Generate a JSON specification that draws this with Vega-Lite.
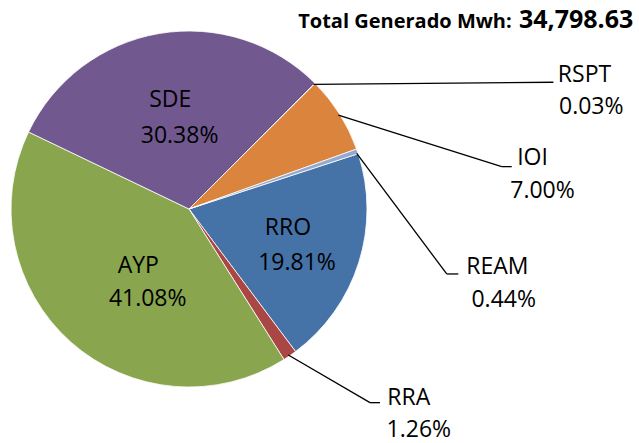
{
  "$schema": "https://vega.github.io/schema/vega-lite/v6.json",
  "width": 356,
  "height": 356,
  "autosize": {"type": "none"},
  "padding": {"left": 11, "top": 31, "right": 272, "bottom": 56},
  "background": "white",
  "config": {"view": {"stroke": null}, "text": {"font": "Open Sans"}},
  "datasets": {
    "slices": [
      {"cat": "RRO", "pct": 19.81, "ord": 1},
      {"cat": "RRA", "pct": 1.26, "ord": 2},
      {"cat": "AYP", "pct": 41.08, "ord": 3},
      {"cat": "SDE", "pct": 30.38, "ord": 4},
      {"cat": "RSPT", "pct": 0.03, "ord": 5},
      {"cat": "IOI", "pct": 7.00, "ord": 6},
      {"cat": "REAM", "pct": 0.44, "ord": 7}
    ],
    "leaders": [
      {"cat": "RSPT", "x": 0.699, "y": 0.700, "x2": 2.047, "y2": 0.712},
      {"cat": "IOI", "x": 0.839, "y": 0.528, "x2": 1.757, "y2": 0.238},
      {"cat": "IOI", "x": 1.757, "y": 0.238, "x2": 1.813, "y2": 0.238},
      {"cat": "REAM", "x": 0.942, "y": 0.313, "x2": 1.448, "y2": -0.365},
      {"cat": "REAM", "x": 1.448, "y": -0.365, "x2": 1.513, "y2": -0.365},
      {"cat": "RRA", "x": 0.558, "y": -0.820, "x2": 1.017, "y2": -1.088},
      {"cat": "RRA", "x": 1.017, "y": -1.088, "x2": 1.073, "y2": -1.088}
    ],
    "labels": [
      {"t": "SDE", "x": -0.105, "y": 0.612},
      {"t": "30.38%", "x": -0.053, "y": 0.411},
      {"t": "RRO", "x": 0.556, "y": -0.107},
      {"t": "19.81%", "x": 0.607, "y": -0.302},
      {"t": "AYP", "x": -0.285, "y": -0.319},
      {"t": "41.08%", "x": -0.232, "y": -0.506},
      {"t": "RSPT", "x": 2.222, "y": 0.755},
      {"t": "0.03%", "x": 2.260, "y": 0.575},
      {"t": "IOI", "x": 1.930, "y": 0.289},
      {"t": "7.00%", "x": 1.986, "y": 0.102},
      {"t": "REAM", "x": 1.732, "y": -0.324},
      {"t": "0.44%", "x": 1.768, "y": -0.509},
      {"t": "RRA", "x": 1.235, "y": -1.063},
      {"t": "1.26%", "x": 1.291, "y": -1.24}
    ],
    "titleA": [{"t": "Total Generado Mwh:", "x": 1.813, "y": 1.015}],
    "titleB": [{"t": "34,798.63", "x": 2.496, "y": 1.015}]
  },
  "layer": [
    {
      "data": {"name": "slices"},
      "mark": {"type": "arc", "outerRadius": 178, "stroke": "white", "strokeWidth": 0.8},
      "encoding": {
        "theta": {"field": "pct", "type": "quantitative", "stack": true,
                  "scale": {"range": [1.2549, 7.5381]}},
        "order": {"field": "ord", "type": "quantitative"},
        "color": {"field": "cat", "type": "nominal", "legend": null,
                  "scale": {"domain": ["RRO", "RRA", "AYP", "SDE", "RSPT", "IOI", "REAM"],
                            "range": ["#4572A7", "#AA4643", "#89A54E", "#71588F", "#4198AF", "#DB843D", "#93A9CF"]}}
      }
    },
    {
      "data": {"name": "leaders"},
      "mark": {"type": "rule", "color": "black", "strokeWidth": 1.3},
      "encoding": {
        "x": {"field": "x", "type": "quantitative", "scale": {"domain": [-1, 1], "nice": false, "zero": false}, "axis": null},
        "y": {"field": "y", "type": "quantitative", "scale": {"domain": [-1, 1], "nice": false, "zero": false}, "axis": null},
        "x2": {"field": "x2"},
        "y2": {"field": "y2"}
      }
    },
    {
      "data": {"name": "labels"},
      "mark": {"type": "text", "fontSize": 23, "color": "black", "align": "center", "baseline": "middle"},
      "encoding": {
        "x": {"field": "x", "type": "quantitative", "axis": null},
        "y": {"field": "y", "type": "quantitative", "axis": null},
        "text": {"field": "t"}
      }
    },
    {
      "data": {"name": "titleA"},
      "mark": {"type": "text", "fontSize": 20, "fontWeight": "bold", "color": "black", "align": "right", "baseline": "alphabetic"},
      "encoding": {
        "x": {"field": "x", "type": "quantitative", "axis": null},
        "y": {"field": "y", "type": "quantitative", "axis": null},
        "text": {"field": "t"}
      }
    },
    {
      "data": {"name": "titleB"},
      "mark": {"type": "text", "fontSize": 25, "fontWeight": "bold", "color": "black", "align": "right", "baseline": "alphabetic"},
      "encoding": {
        "x": {"field": "x", "type": "quantitative", "axis": null},
        "y": {"field": "y", "type": "quantitative", "axis": null},
        "text": {"field": "t"}
      }
    }
  ]
}
